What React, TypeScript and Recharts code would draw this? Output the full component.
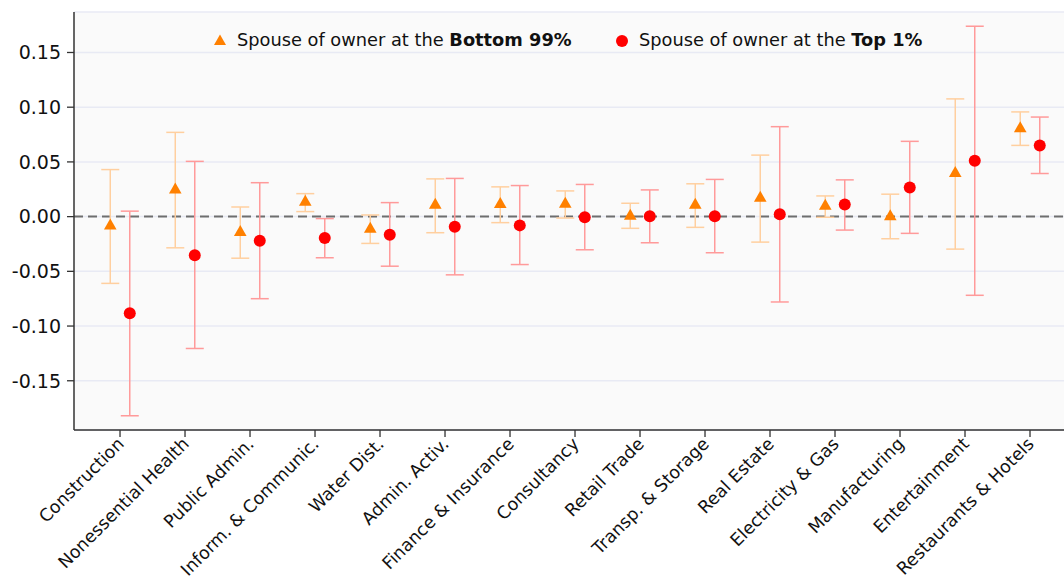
import { ScatterChart, Scatter, XAxis, YAxis, CartesianGrid, ErrorBar, ReferenceLine, Legend } from 'recharts';

const categories = [
  'Construction', 'Nonessential Health', 'Public Admin.', 'Inform. & Communic.', 'Water Dist.',
  'Admin. Activ.', 'Finance & Insurance', 'Consultancy', 'Retail Trade', 'Transp. & Storage',
  'Real Estate', 'Electricity & Gas', 'Manufacturing', 'Entertainment', 'Restaurants & Hotels',
];

// Spouse of owner at the Bottom 99%: point estimate and CI bounds
const bottomValues = [-0.0077, 0.0253, -0.0135, 0.014, -0.0107, 0.0113, 0.0119, 0.0122, 0.0012, 0.0113, 0.0177, 0.0104, 0.0009, 0.0404, 0.0813];
const bottomLow = [-0.061, -0.0285, -0.038, 0.0046, -0.0245, -0.0147, -0.0055, -0.0013, -0.0107, -0.0098, -0.0233, -0.0006, -0.0202, -0.0297, 0.0651];
const bottomHigh = [0.043, 0.077, 0.0088, 0.021, 0.0015, 0.0345, 0.0272, 0.0235, 0.0122, 0.03, 0.0562, 0.0189, 0.0205, 0.1076, 0.0957];

// Spouse of owner at the Top 1%
const topValues = [-0.0884, -0.0352, -0.022, -0.0196, -0.0165, -0.0092, -0.008, -0.0006, 0.0003, 0.0003, 0.0021, 0.011, 0.0266, 0.051, 0.0651];
const topLow = [-0.182, -0.1205, -0.075, -0.0376, -0.0453, -0.0532, -0.0438, -0.0303, -0.0239, -0.033, -0.078, -0.0123, -0.0153, -0.0719, 0.0394];
const topHigh = [0.005, 0.0505, 0.031, -0.0018, 0.0128, 0.0349, 0.0284, 0.0294, 0.0244, 0.034, 0.0822, 0.0336, 0.0688, 0.174, 0.091];

const yTicks = [-0.15, -0.1, -0.05, 0, 0.05, 0.1, 0.15];

const ORANGE = '#ff8000';
const RED = '#ff0000';
const FONT = '"DejaVu Sans", sans-serif';

const DODGE = 0.15;

const bottomData = bottomValues.map((v, i) => ({ x: i - DODGE, y: v, err: [v - bottomLow[i], bottomHigh[i] - v] }));
const topData = topValues.map((v, i) => ({ x: i + DODGE, y: v, err: [v - topLow[i], topHigh[i] - v] }));

const Triangle = (props: any) => {
  const { cx, cy } = props;
  if (cx == null || cy == null) return null;
  return <path d={`M${cx},${cy - 6.5} L${cx + 6.3},${cy + 4.5} L${cx - 6.3},${cy + 4.5} Z`} fill={ORANGE} />;
};

const Dot = (props: any) => {
  const { cx, cy } = props;
  if (cx == null || cy == null) return null;
  return <circle cx={cx} cy={cy} r={6} fill={RED} />;
};

const CategoryTick = (props: any) => {
  const { x, y, payload } = props;
  const ax = x + 5;
  const ay = y + 6;
  return (
    <text x={ax} y={ay} textAnchor="end" fontSize={17.5} fontFamily={FONT} fill="#111" transform={`rotate(-45, ${ax}, ${ay})`}>
      {categories[payload.value]}
    </text>
  );
};

const LegendBox = () => (
  <div style={{ position: 'relative', height: 26, fontFamily: FONT, fontSize: 17.8, color: '#111' }}>
    <svg width={14} height={14} style={{ position: 'absolute', left: 3, top: 4 }}>
      <path d="M7,1.5 L13,12 L1,12 Z" fill={ORANGE} />
    </svg>
    <span style={{ position: 'absolute', left: 27, top: 0, whiteSpace: 'nowrap' }}>
      Spouse of owner at the <b>Bottom 99%</b>
    </span>
    <svg width={14} height={14} style={{ position: 'absolute', left: 405, top: 5 }}>
      <circle cx={7} cy={7} r={6} fill={RED} />
    </svg>
    <span style={{ position: 'absolute', left: 429, top: 0, whiteSpace: 'nowrap' }}>
      Spouse of owner at the <b>Top 1%</b>
    </span>
  </div>
);

export default function App() {
  return (
    <div style={{ position: 'absolute', left: 0, top: 0, background: '#fff' }}>
      <ScatterChart width={1064} height={578} margin={{ top: 12, right: 0, bottom: 0, left: 0 }}>
        <CartesianGrid horizontal vertical={false} fill="#fafafa" stroke="#e8eaf4" strokeWidth={1.5} />
        <XAxis
          type="number"
          dataKey="x"
          domain={[-0.708, 14.523]}
          ticks={categories.map((_, i) => i)}
          allowDataOverflow
          interval={0}
          height={148}
          tickSize={7}
          tick={<CategoryTick />}
          axisLine={{ stroke: '#333', strokeWidth: 1.5 }}
          tickLine={{ stroke: '#333', strokeWidth: 1.3 }}
        />
        <YAxis
          type="number"
          dataKey="y"
          domain={[-0.195, 0.187]}
          ticks={yTicks}
          allowDataOverflow
          width={74}
          tickSize={7}
          tickMargin={6}
          tickFormatter={(v: number) => v.toFixed(2)}
          tick={{ fontSize: 19, fontFamily: FONT, fill: '#111' }}
          axisLine={{ stroke: '#333', strokeWidth: 1.5 }}
          tickLine={{ stroke: '#333', strokeWidth: 1.3 }}
        />
        <ReferenceLine y={0} stroke="#6e6e6e" strokeWidth={2} strokeDasharray="9 5" />
        <Legend
          verticalAlign="middle"
          layout="horizontal"
          content={<LegendBox />}
          wrapperStyle={{ top: 29, left: 210, width: 760, height: 26 }}
        />
        <Scatter name="Bottom 99%" data={bottomData} shape={<Triangle />} isAnimationActive={false}>
          <ErrorBar dataKey="err" direction="y" width={9} stroke="#ffcf9f" strokeWidth={1.5} />
        </Scatter>
        <Scatter name="Top 1%" data={topData} shape={<Dot />} isAnimationActive={false}>
          <ErrorBar dataKey="err" direction="y" width={9} stroke="#ff9a9a" strokeWidth={1.5} />
        </Scatter>
      </ScatterChart>
    </div>
  );
}
